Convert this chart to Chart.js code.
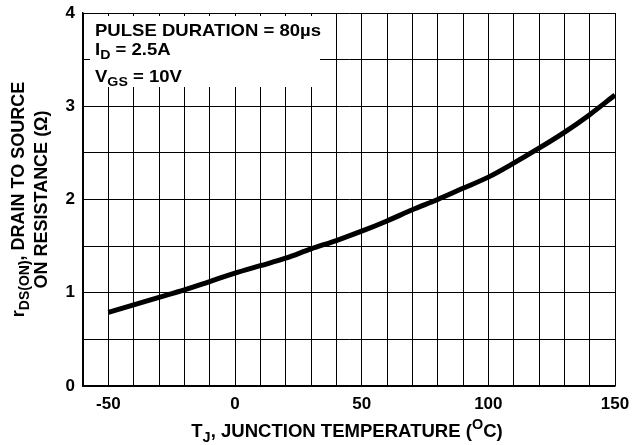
<!DOCTYPE html>
<html>
<head>
<meta charset="utf-8">
<title>rDS(ON) vs Junction Temperature</title>
<script src="https://cdn.jsdelivr.net/npm/chart.js@4.4.0/dist/chart.umd.min.js"></script>
<style>
    body { margin: 0; background: #fff; }
    canvas { display: block; }
</style>
</head>
<body>
<canvas id="rdsChart" width="633" height="445"></canvas>
<script>
// Junction temperature (deg C) and on resistance (ohm)
const temps = [-50, -40, -30, -20, -10, 0, 10, 20, 30, 40, 50, 60, 70, 80, 90, 100, 110, 120, 130, 140, 150];
const rdsOn = [0.79, 0.87, 0.95, 1.03, 1.12, 1.21, 1.29, 1.37, 1.47, 1.56, 1.66, 1.77, 1.89, 2.00, 2.12, 2.24, 2.39, 2.55, 2.72, 2.91, 3.12];

// Axis tick labels
const xTickLabels = [-50, 0, 50, 100, 150];
const yTickLabels = [0, 1, 2, 3, 4];

// Conditions block text
const noteLines = [
    [{ t: 'PULSE DURATION = 80\u00b5s' }],
    [{ t: 'I' }, { t: 'D', sub: true }, { t: ' = 2.5A' }],
    [{ t: 'V' }, { t: 'GS', sub: true }, { t: ' = 10V' }]
];

const FONT_FAMILY = '"Liberation Sans", Arial, Helvetica, sans-serif';

function fontStr(size) {
    return 'bold ' + size + 'px ' + FONT_FAMILY;
}

// Draw text with subscripts / superscripts, optionally stretched horizontally
function drawRich(ctx, x, y, parts, size, align, sx) {
    sx = sx || 1;
    let width = 0;
    parts.forEach(p => {
        ctx.font = fontStr(p.sub || p.sup ? Math.round(size * 0.78) : size);
        width += ctx.measureText(p.t).width;
    });
    let start = 0;
    if (align === 'center') start = -width / 2;
    ctx.save();
    ctx.translate(x, y);
    ctx.scale(sx, 1);
    ctx.fillStyle = '#000';
    ctx.textBaseline = 'alphabetic';
    ctx.textAlign = 'left';
    let cx = start;
    parts.forEach(p => {
        const s = p.sub || p.sup ? Math.round(size * 0.78) : size;
        ctx.font = fontStr(s);
        let dy = 0;
        if (p.sub) dy = size * 0.25;
        if (p.sup) dy = -size * 0.42;
        ctx.fillText(p.t, cx, dy);
        cx += ctx.measureText(p.t).width;
    });
    ctx.restore();
}

const textPlugin = {
    id: 'textPlugin',
    beforeDatasetsDraw(chart) {
        const ctx = chart.ctx;
        const area = chart.chartArea;
        // white box behind the conditions text
        ctx.save();
        ctx.fillStyle = '#fff';
        ctx.fillRect(area.left + 7, area.top + 3, 320 - area.left - 7, 87 - area.top - 3);
        ctx.restore();
    },
    afterDraw(chart) {
        const ctx = chart.ctx;
        const area = chart.chartArea;

        // conditions text
        drawRich(ctx, 95, 36, noteLines[0], 17, 'left', 1.09);
        drawRich(ctx, 95, 55, noteLines[1], 17, 'left', 1.09);
        drawRich(ctx, 95, 82, noteLines[2], 17, 'left', 1.09);

        // x axis title
        drawRich(ctx, 347, 437, [
            { t: 'T' }, { t: 'J', sub: true }, { t: ', JUNCTION TEMPERATURE (' },
            { t: 'O', sup: true }, { t: 'C)' }
        ], 18, 'center', 1.03);

        // y axis title, two lines rotated
        const midY = (area.top + area.bottom) / 2;
        ctx.save();
        ctx.translate(24, midY);
        ctx.rotate(-Math.PI / 2);
        drawRich(ctx, 0, 0, [
            { t: 'r' }, { t: 'DS(ON)', sub: true }, { t: ', DRAIN TO SOURCE' }
        ], 18, 'center', 1.0);
        drawRich(ctx, 0, 23, [{ t: 'ON RESISTANCE (\u03a9)' }], 18, 'center', 1.0);
        ctx.restore();
    }
};

const points = temps.map((t, i) => ({ x: t, y: rdsOn[i] }));

new Chart(document.getElementById('rdsChart'), {
    type: 'line',
    data: {
        datasets: [{
            data: points,
            borderColor: '#000',
            borderWidth: 5,
            pointRadius: 0,
            fill: false,
            cubicInterpolationMode: 'monotone'
        }]
    },
    options: {
        responsive: false,
        animation: false,
        layout: { padding: { left: 0, top: 13, right: 18, bottom: 0 } },
        plugins: {
            legend: { display: false },
            tooltip: { enabled: false }
        },
        scales: {
            x: {
                type: 'linear',
                min: -60,
                max: 150,
                ticks: {
                    stepSize: 10,
                    autoSkip: false,
                    maxRotation: 0,
                    padding: 8,
                    color: '#000',
                    font: { family: FONT_FAMILY, size: 17, weight: 'bold' },
                    callback: function(v) {
                        const r = Math.round(v);
                        return xTickLabels.includes(r) ? String(r) : '';
                    }
                },
                grid: { color: '#000', lineWidth: 1, drawTicks: false },
                border: { color: '#000', width: 1.5 },
                afterFit: function(scale) {
                    scale.height = 59;
                    scale.paddingLeft = 0;
                    scale.paddingRight = 0;
                }
            },
            y: {
                min: 0,
                max: 4,
                ticks: {
                    stepSize: 0.5,
                    autoSkip: false,
                    padding: 8,
                    color: '#000',
                    font: { family: FONT_FAMILY, size: 17, weight: 'bold' },
                    callback: function(v) {
                        return yTickLabels.includes(v) ? String(v) : '';
                    }
                },
                grid: { color: '#000', lineWidth: 1, drawTicks: false },
                border: { color: '#000', width: 1.5 },
                afterFit: function(scale) {
                    scale.width = 83;
                    scale.paddingTop = 0;
                    scale.paddingBottom = 0;
                }
            }
        }
    },
    plugins: [textPlugin]
});
</script>
</body>
</html>
